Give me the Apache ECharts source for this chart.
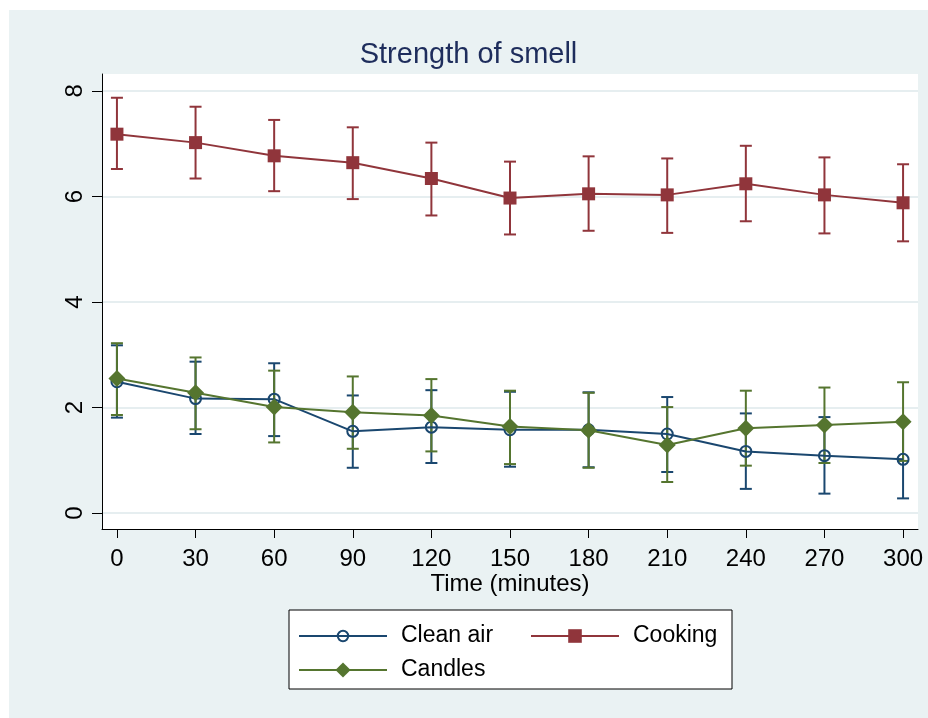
<!DOCTYPE html>
<html>
<head>
<meta charset="utf-8">
<script src="https://cdn.jsdelivr.net/npm/echarts@6/dist/echarts.min.js"></script>
<style>
  html, body { margin: 0; padding: 0; background: #fff; }
  #main { position: absolute; left: 9px; top: 10px; width: 919px; height: 708px; }
</style>
</head>
<body>
<div id="main"></div>
<script>
// minutes
var times = [0, 30, 60, 90, 120, 150, 180, 210, 240, 270, 300];
var yTicks = [0, 2, 4, 6, 8];

var cleanMean = [2.49, 2.17, 2.16, 1.55, 1.63, 1.58, 1.58, 1.50, 1.17, 1.09, 1.02];
var cleanLo   = [1.81, 1.50, 1.46, 0.86, 0.95, 0.88, 0.87, 0.78, 0.46, 0.37, 0.28];
var cleanHi   = [3.18, 2.87, 2.84, 2.23, 2.33, 2.30, 2.29, 2.20, 1.89, 1.82, 1.76];

var cookMean = [7.18, 7.02, 6.77, 6.64, 6.34, 5.97, 6.05, 6.03, 6.24, 6.03, 5.88];
var cookLo   = [6.52, 6.34, 6.10, 5.95, 5.64, 5.28, 5.35, 5.31, 5.53, 5.30, 5.15];
var cookHi   = [7.87, 7.70, 7.45, 7.31, 7.02, 6.66, 6.76, 6.72, 6.96, 6.74, 6.61];

var candMean = [2.55, 2.28, 2.01, 1.91, 1.85, 1.64, 1.57, 1.29, 1.61, 1.67, 1.73];
var candLo   = [1.86, 1.59, 1.34, 1.22, 1.17, 0.93, 0.86, 0.59, 0.90, 0.95, 0.99];
var candHi   = [3.22, 2.95, 2.70, 2.59, 2.54, 2.32, 2.28, 2.01, 2.32, 2.38, 2.48];

var NAVY = '#1a476f', MAROON = '#90353b', GREEN = '#55752f';
var FONT = '"Liberation Sans", Arial, sans-serif';

function pairs(ys) {
  return times.map(function (t, i) { return [t, ys[i]]; });
}

function errorBars(lo, hi, color) {
  return {
    type: 'custom',
    silent: true,
    z: 3,
    data: times.map(function (t, i) { return [t, lo[i], hi[i]]; }),
    encode: { x: 0, y: [1, 2] },
    renderItem: function (params, api) {
      var top = api.coord([api.value(0), api.value(2)]);
      var bot = api.coord([api.value(0), api.value(1)]);
      var hw = 6;
      var st = { stroke: color, lineWidth: 2 };
      return {
        type: 'group',
        children: [
          { type: 'line', shape: { x1: top[0], y1: top[1], x2: bot[0], y2: bot[1] }, style: st },
          { type: 'line', shape: { x1: top[0] - hw, y1: top[1], x2: top[0] + hw, y2: top[1] }, style: st },
          { type: 'line', shape: { x1: bot[0] - hw, y1: bot[1], x2: bot[0] + hw, y2: bot[1] }, style: st }
        ]
      };
    }
  };
}

// one legend per entry so each icon can get its own size
function legendItem(name, left, top, h) {
  return {
    data: [name],
    left: left,
    top: top,
    padding: 0,
    itemWidth: 88,
    itemHeight: h,
    textStyle: { color: '#000', fontSize: 23, fontFamily: FONT, lineHeight: 26, padding: [0, 0, 0, 9] }
  };
}

var myChart = echarts.init(document.getElementById('main'));

var option = {
  backgroundColor: '#eaf2f3',
  animation: false,
  title: {
    text: 'Strength of smell',
    left: 'center',
    top: 25,
    textStyle: { color: '#1e2d5c', fontSize: 29, fontWeight: 'normal', fontFamily: FONT }
  },
  graphic: [{
    type: 'rect',
    z: 1,
    shape: { x: 280, y: 600, width: 443, height: 79 },
    style: { fill: '#fff', stroke: '#000', lineWidth: 1 }
  }],
  legend: [
    legendItem('Clean air', 289, 613, 13),
    legendItem('Cooking', 521, 613, 17),
    legendItem('Candles', 289, 647, 19)
  ],
  grid: {
    left: 93, top: 64, right: 10, bottom: 189,
    show: true, backgroundColor: '#fff', borderWidth: 0
  },
  xAxis: {
    type: 'value',
    min: -5.7,
    max: 305.7,
    name: 'Time (minutes)',
    nameLocation: 'middle',
    nameGap: 43,
    nameMoveOverlap: false,
    nameTextStyle: { color: '#000', fontSize: 24, fontFamily: FONT },
    axisLine: { show: true, onZero: false, lineStyle: { color: '#000', width: 1 } },
    axisTick: { show: true, length: 9, customValues: times, lineStyle: { color: '#000' } },
    axisLabel: { customValues: times, color: '#000', fontSize: 24, fontFamily: FONT, margin: 18 },
    splitLine: { show: false }
  },
  yAxis: {
    type: 'value',
    min: -0.3,
    max: 8.32,
    axisLine: { show: true, onZero: false, lineStyle: { color: '#000', width: 1 } },
    axisTick: { show: true, length: 10, customValues: yTicks, lineStyle: { color: '#000' } },
    axisLabel: { customValues: yTicks, rotate: 90, color: '#000', fontSize: 24, fontFamily: FONT, margin: 15 },
    splitLine: { show: true, lineStyle: { color: '#e6eef0', width: 2 } }
  },
  series: [
    errorBars(cleanLo, cleanHi, NAVY),
    errorBars(cookLo, cookHi, MAROON),
    errorBars(candLo, candHi, GREEN),
    {
      name: 'Clean air',
      type: 'line',
      z: 4,
      data: pairs(cleanMean),
      symbol: 'circle',
      symbolSize: 11,
      lineStyle: { color: NAVY, width: 2 },
      itemStyle: { color: 'rgba(255,255,255,0)', borderColor: NAVY, borderWidth: 2 }
    },
    {
      name: 'Cooking',
      type: 'line',
      z: 4,
      data: pairs(cookMean),
      symbol: 'rect',
      symbolSize: 13,
      lineStyle: { color: MAROON, width: 2 },
      itemStyle: { color: MAROON }
    },
    {
      name: 'Candles',
      type: 'line',
      z: 5,
      data: pairs(candMean),
      symbol: 'diamond',
      symbolSize: [17, 17],
      lineStyle: { color: GREEN, width: 2 },
      itemStyle: { color: GREEN }
    }
  ]
};

myChart.setOption(option);
</script>
</body>
</html>
